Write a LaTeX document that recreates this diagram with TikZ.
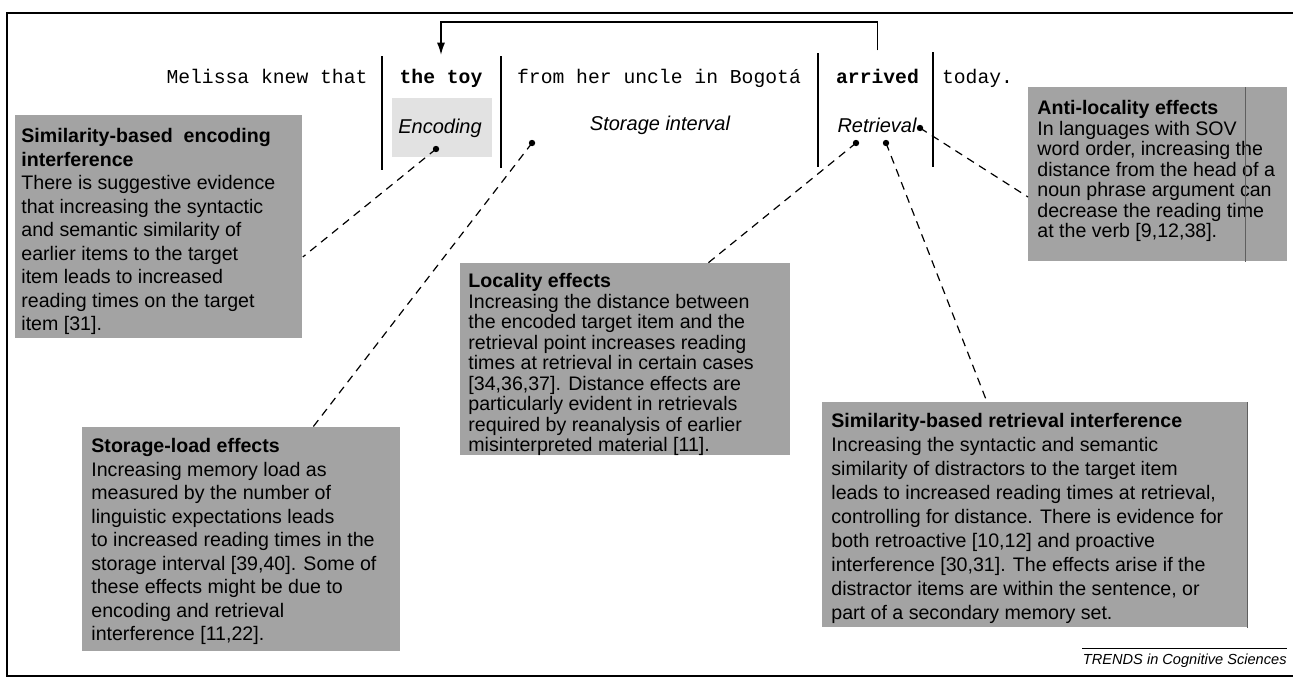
\documentclass[tikz,border=0pt]{standalone}
\usepackage{fontspec}
\setmainfont{Liberation Sans}
\setmonofont{Liberation Mono}
\usetikzlibrary{arrows.meta,calc}
\definecolor{boxgray}{RGB}{163,163,163}
\definecolor{patchgray}{RGB}{226,226,226}
\definecolor{edgegray}{RGB}{95,95,95}
\begin{document}
\begin{tikzpicture}[x=0.5pt,y=-0.5pt,
  sent/.style={font=\fontsize{9.85}{12}\selectfont\ttfamily, inner sep=0pt, anchor=base},
  lab/.style={font=\fontsize{10}{12}\selectfont\itshape, inner sep=0pt},
  gbox/.style={fill=boxgray, draw=none, anchor=north west, inner sep=0pt},
  btext/.style={anchor=north west, align=left, inner sep=0pt, text=black},
  bar/.style={line width=0.75pt},
  conn/.style={dash pattern=on 4pt off 3pt, line width=0.6pt},
  dotp/.style={circle, fill=black, inner sep=0pt, minimum size=3.2pt},
  frameline/.style={line width=1pt},
]
\useasboundingbox (0,0) rectangle (1293,680);

% outer frame
\draw[frameline] (1293,13) -- (7,13) -- (7,676) -- (1293,676);

% light patch behind Encoding
\fill[patchgray] (392,98) rectangle (492,157);

% sentence
\node[sent] (mel) at (267,83) {Melissa knew that};
\node[sent] (toy) at (441,83) {\bfseries the toy};
\node[sent] (from) at (659,83) {from her uncle in Bogotá};
\node[sent] (arr) at (877.5,83) {\bfseries arrived};
\node[sent] (today) at (977.5,83) {today.};

% separators
\draw[bar] (382,56) -- (382,170);
\draw[bar] (501,56) -- (501,168);
\draw[bar] (818,53) -- (818,167);
\draw[bar] (933,52) -- (933,167);

% retrieval-to-encoding arrow
\coordinate (top) at (0,22);
\draw[line width=0.6pt, -{Latex[length=6pt,width=4pt]}, shorten <=9pt, shorten >=6.8pt]
  (arr.north) -- (arr.north |- top) -- (toy.north |- top) -- (toy.north);

% phase labels
\node[lab] (enc) at (440,128) {Encoding};
\node[lab] (sto) at (660,125) {Storage interval};
\node[lab] (ret) at (877,125) {Retrieval};

% dots
\node[dotp] (denc) at (436,149) {};
\node[dotp] (dsto) at (532,143) {};
\node[dotp] (dr1) at (856,143) {};
\node[dotp] (dr2) at (886,143) {};
\node[dotp] (danti) at (920,128) {};

% boxes
\node[gbox, minimum width=143.5pt, minimum height=111.5pt] (b1) at (15,115) {};
\node[btext, font=\fontsize{9.8}{11.75}\selectfont] (t1) at (21,128) {%
\textbf{Similarity-based\ \ encoding}\\
\textbf{interference}\\
There is suggestive evidence\\
that increasing the syntactic\\
and semantic similarity of\\
earlier items to the target\\
item leads to increased\\
reading times on the target\\
item [31].};

\node[gbox, minimum width=165pt, minimum height=96pt] (b2) at (460,263) {};
\node[btext, font=\fontsize{9.8}{10.25}\selectfont] (t2) at (468,273) {%
\textbf{Locality effects}\\
Increasing the distance between\\
the encoded target item and the\\
retrieval point increases reading\\
times at retrieval in certain cases\\
{[}34,36,37]. Distance effects are\\
particularly evident in retrievals\\
required by reanalysis of earlier\\
misinterpreted material [11].};

\node[gbox, minimum width=159pt, minimum height=112pt] (b3) at (82,427) {};
\node[btext, font=\fontsize{9.8}{11.75}\selectfont] (t3) at (91,438) {%
\textbf{Storage-load effects}\\
Increasing memory load as\\
measured by the number of\\
linguistic expectations leads\\
to increased reading times in the\\
storage interval [39,40]. Some of\\
these effects might be due to\\
encoding and retrieval\\
interference [11,22].};

\node[gbox, minimum width=212.5pt, minimum height=112.5pt] (b4) at (822,402) {};
\node[btext, font=\fontsize{9.8}{12}\selectfont] (t4) at (831,413) {%
\textbf{Similarity-based retrieval interference}\\
Increasing the syntactic and semantic\\
similarity of distractors to the target item\\
leads to increased reading times at retrieval,\\
controlling for distance. There is evidence for\\
both retroactive [10,12] and proactive\\
interference [30,31]. The effects arise if the\\
distractor items are within the sentence, or\\
part of a secondary memory set.};

\node[gbox, minimum width=129.5pt, minimum height=87pt] (b5) at (1028,87) {};
\node[btext, font=\fontsize{9.8}{10.25}\selectfont] (t5) at (1037,100) {%
\textbf{Anti-locality effects}\\
In languages with SOV\\
word order, increasing the\\
distance from the head of a\\
noun phrase argument can\\
decrease the reading time\\
at the verb [9,12,38].};

% scan gutter lines
\draw[edgegray, line width=0.5pt] (b5.north west -| 1245,0) -- (b5.south west -| 1245,0);
\draw[edgegray, line width=0.5pt] (b4.north east) -- (b4.south east);

% dashed connectors
\draw[conn] (denc.center) -- (b1.east |- 0,257);
\draw[conn] (dsto.center) -- (b3.north -| 313,0);
\draw[conn] (dr1.center) -- (b2.north -| 708,0);
\draw[conn] (dr2.center) -- (b4.north -| 987,0);
\draw[conn] (danti.center) -- (b5.west |- 0,197);

% credit
\draw[line width=0.5pt] (1082,648) -- (1287,648);
\node[font=\fontsize{7.3}{9}\selectfont\itshape, anchor=east, inner sep=0pt] (trends) at (1287,661) {TRENDS in Cognitive Sciences};
\end{tikzpicture}
\end{document}
